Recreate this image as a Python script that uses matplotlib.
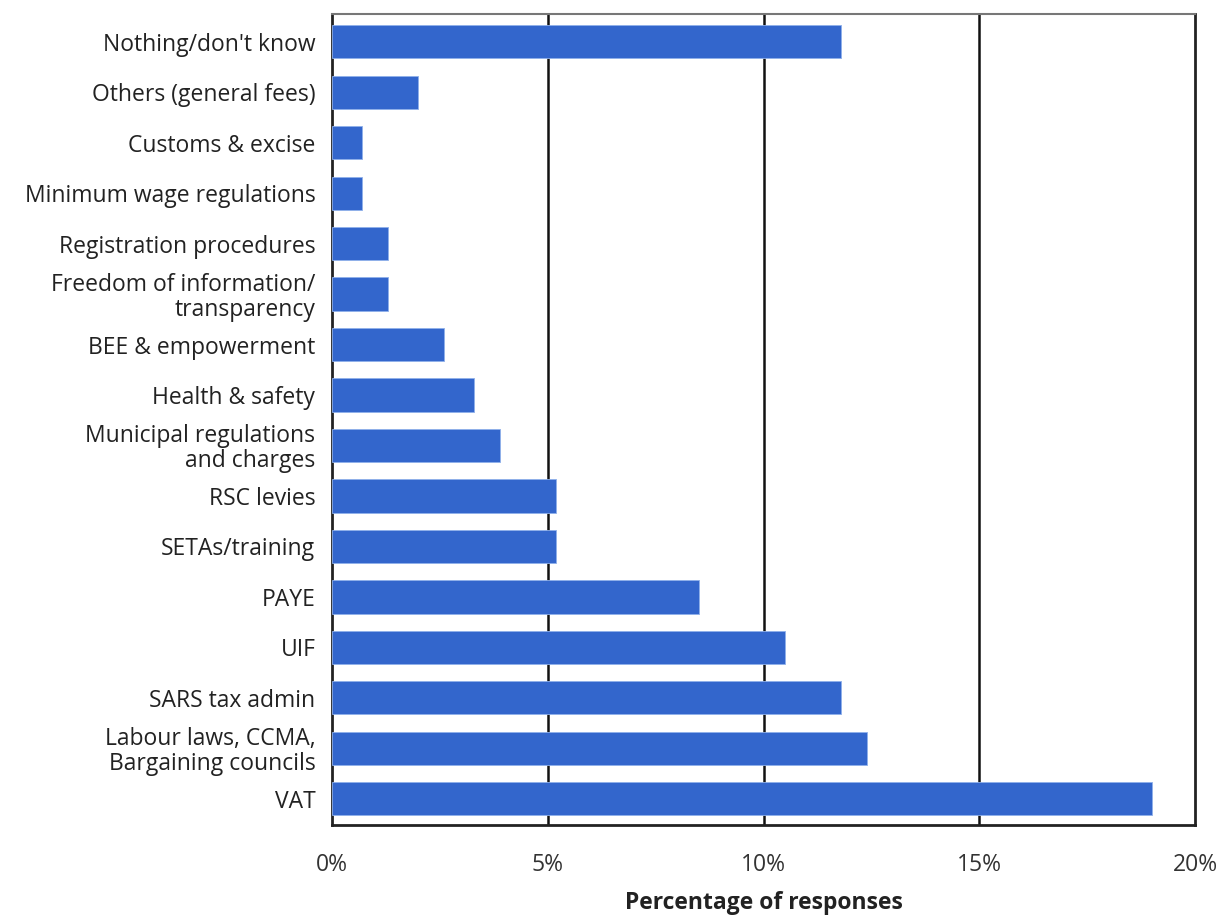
import matplotlib.pyplot as plt
from matplotlib.ticker import FuncFormatter

# Categories from bottom to top
categories = [
    "VAT",
    "Labour laws, CCMA,\nBargaining councils",
    "SARS tax admin",
    "UIF",
    "PAYE",
    "SETAs/training",
    "RSC levies",
    "Municipal regulations\nand charges",
    "Health & safety",
    "BEE & empowerment",
    "Freedom of information/\ntransparency",
    "Registration procedures",
    "Minimum wage regulations",
    "Customs & excise",
    "Others (general fees)",
    "Nothing/don't know",
]
pct = [19.0, 12.4, 11.8, 10.5, 8.5, 5.2, 5.2, 3.9, 3.3, 2.6, 1.3, 1.3, 0.7, 0.7, 2.0, 11.8]

plt.rcParams['font.family'] = ['Open Sans', 'DejaVu Sans']

fig = plt.figure(figsize=(12.24, 9.18), dpi=100)
ax = fig.add_axes([332 / 1224, 1 - 825 / 918, (1195 - 332) / 1224, (825 - 14) / 918])

ax.barh(range(len(categories)), pct, height=0.66, color='#3366cc',
        edgecolor='#8fb0ea', linewidth=0.6, zorder=3)

ax.set_xlim(0, 20)
ax.set_ylim(-0.52, len(categories) - 0.45)
ax.set_xticks([0, 5, 10, 15, 20])
ax.xaxis.set_major_formatter(FuncFormatter(lambda v, p: f"{v:.0f}%"))
ax.set_yticks(range(len(categories)))
ax.set_yticklabels(categories, fontsize=16.5, color='#222222', linespacing=1.05)
ax.tick_params(axis='both', length=0)
ax.tick_params(axis='y', pad=12)
ax.tick_params(axis='x', pad=20, labelsize=16.5, labelcolor='#333333')

for v in [5, 10, 15]:
    ax.axvline(v, color='#111111', linewidth=1.8, zorder=1)

for side in ['left', 'bottom', 'right']:
    ax.spines[side].set_linewidth(2)
    ax.spines[side].set_color('#222222')
ax.spines['top'].set_linewidth(1.5)
ax.spines['top'].set_color('#777777')

ax.set_xlabel("Percentage of responses", fontsize=16.5, fontweight='bold',
              color='#222222')
ax.xaxis.set_label_coords(0.5, -0.081)

fig.savefig('out.png', dpi=100)
